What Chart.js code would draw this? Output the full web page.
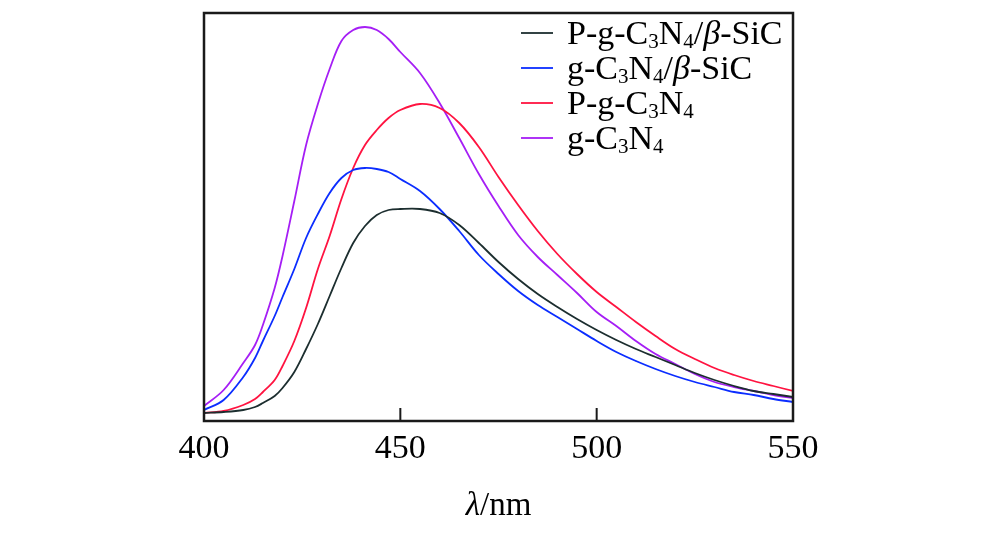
<!DOCTYPE html>
<html>
<head>
<meta charset="utf-8">
<script src="https://cdn.jsdelivr.net/npm/chart.js@4.4.0/dist/chart.umd.min.js"></script>
<style>
html, body { margin: 0; padding: 0; background: #fff; }
#wrap { width: 1000px; height: 553px; }
</style>
</head>
<body>
<div id="wrap"><canvas id="lineChart" width="1000" height="553"></canvas></div>
<script>
// wavelength (nm) and PL intensity (arbitrary units)
let wavelength = [400, 405, 410, 413, 415, 418, 420, 423, 426, 429, 432, 435, 438, 441, 444, 447, 450,
                  455, 460, 465, 470, 475, 480, 485, 490, 495, 500, 505, 510, 515, 520, 525,
                  530, 535, 540, 545, 550];
let pgc3n4SiC = [8, 9, 11, 14, 18, 25, 33, 49, 72, 97, 125, 153, 178, 195, 206, 211, 212,
                 212, 208, 196, 178, 159, 142, 127, 114, 102, 91, 81, 72, 64, 56, 48,
                 41, 35, 30, 27, 24];
let gc3n4SiC = [11, 21, 44, 63, 80, 105, 124, 152, 183, 207, 228, 243, 251, 253, 252, 249, 242,
                230, 212, 190, 166, 147, 130, 116, 104, 92, 80, 69, 60, 52, 45, 39,
                34, 29, 26, 22, 19];
let pgc3n4 = [8, 10, 16, 22, 29, 41, 55, 80, 113, 152, 185, 222, 253, 276, 291, 303, 311,
              317, 313, 298, 274, 244, 216, 190, 167, 147, 129, 114, 99, 85, 72, 62,
              53, 46, 40, 35, 30];
let gc3n4 = [15, 31, 58, 76, 96, 133, 165, 220, 276, 317, 352, 380, 391, 394, 391, 382, 369,
             348, 318, 283, 247, 215, 186, 164, 146, 128, 109, 95, 80, 67, 57, 47,
             39, 34, 30, 26, 23];
let xTicks = [400, 450, 500, 550];

let serif = '"Liberation Serif", "Times New Roman", serif';

function pts(arr) {
    return arr.map(function (v, i) { return { x: wavelength[i], y: v }; });
}

function mkSet(label, values, color) {
    return {
        label: label,
        data: pts(values),
        borderColor: color,
        backgroundColor: color,
        borderWidth: 1.8,
        pointRadius: 0,
        fill: false,
        tension: 0.35
    };
}

let subDigits = { '\u2080': '0', '\u2081': '1', '\u2082': '2', '\u2083': '3', '\u2084': '4' };

function setFont(ctx, ch, size) {
    if (subDigits[ch]) {
        ctx.font = Math.round(size * 0.62) + 'px ' + serif;
        return subDigits[ch];
    }
    if (ch === '\u03b2' || ch === '\u03bb') {
        ctx.font = 'italic ' + size + 'px ' + serif;
    } else {
        ctx.font = size + 'px ' + serif;
    }
    return ch;
}

// draws text with unicode subscripts lowered and greek letters in italic
function drawRich(ctx, text, x, y, size) {
    for (let ch of text) {
        let c = setFont(ctx, ch, size);
        let dy = subDigits[ch] ? size * 0.13 : 0;
        ctx.fillText(c, x, y + dy);
        x += ctx.measureText(c).width;
    }
    return x;
}

function richWidth(ctx, text, size) {
    let w = 0;
    for (let ch of text) {
        let c = setFont(ctx, ch, size);
        w += ctx.measureText(c).width;
    }
    return w;
}

let framePlugin = {
    id: 'frame',
    afterDatasetsDraw: function (chart) {
        let ctx = chart.ctx;
        let a = chart.chartArea;
        let xs = chart.scales.x;
        ctx.save();
        ctx.strokeStyle = '#1a1a1a';
        ctx.lineWidth = 2.5;
        ctx.strokeRect(a.left, a.top, a.right - a.left, a.bottom - a.top);
        // inward ticks
        ctx.lineWidth = 2;
        xs.ticks.forEach(function (t) {
            let px = xs.getPixelForValue(t.value);
            ctx.beginPath();
            ctx.moveTo(px, a.bottom);
            ctx.lineTo(px, a.bottom - 13);
            ctx.stroke();
        });
        // legend
        let rowY = [33, 68, 103, 138];
        ctx.fillStyle = '#000';
        ctx.textBaseline = 'alphabetic';
        chart.data.datasets.forEach(function (ds, i) {
            let y = rowY[i];
            ctx.strokeStyle = ds.borderColor;
            ctx.lineWidth = 1.8;
            ctx.beginPath();
            ctx.moveTo(521, y);
            ctx.lineTo(553, y);
            ctx.stroke();
            drawRich(ctx, ds.label, 567, y + 11, 34);
        });
        // axis title
        let title = '\u03bb/nm';
        let w = richWidth(ctx, title, 33);
        drawRich(ctx, title, (a.left + a.right) / 2 - w / 2, 515, 33);
        ctx.restore();
    }
};

let chart = document.getElementById('lineChart');
let lineChart = new Chart(chart, {
    type: 'line',
    data: {
        datasets: [
            mkSet('P-g-C\u2083N\u2084/\u03b2-SiC', pgc3n4SiC, '#1c2e2f'),
            mkSet('g-C\u2083N\u2084/\u03b2-SiC', gc3n4SiC, '#0b2dff'),
            mkSet('P-g-C\u2083N\u2084', pgc3n4, '#ff1340'),
            mkSet('g-C\u2083N\u2084', gc3n4, '#a51ef5')
        ]
    },
    options: {
        responsive: false,
        animation: false,
        devicePixelRatio: 1,
        layout: { padding: { left: 204, right: 207, top: 13, bottom: 0 } },
        plugins: {
            legend: { display: false },
            tooltip: { enabled: false }
        },
        scales: {
            x: {
                type: 'linear',
                min: 400,
                max: 550,
                afterBuildTicks: function (s) {
                    s.ticks = xTicks.map(function (v) { return { value: v }; });
                },
                afterFit: function (s) { s.height = 132; },
                grid: { display: false },
                border: { display: false },
                ticks: {
                    color: '#000',
                    padding: 0,
                    maxRotation: 0,
                    font: { family: serif, size: 34 }
                }
            },
            y: {
                display: false,
                min: 0,
                max: 408
            }
        }
    },
    plugins: [framePlugin]
});
</script>
</body>
</html>
